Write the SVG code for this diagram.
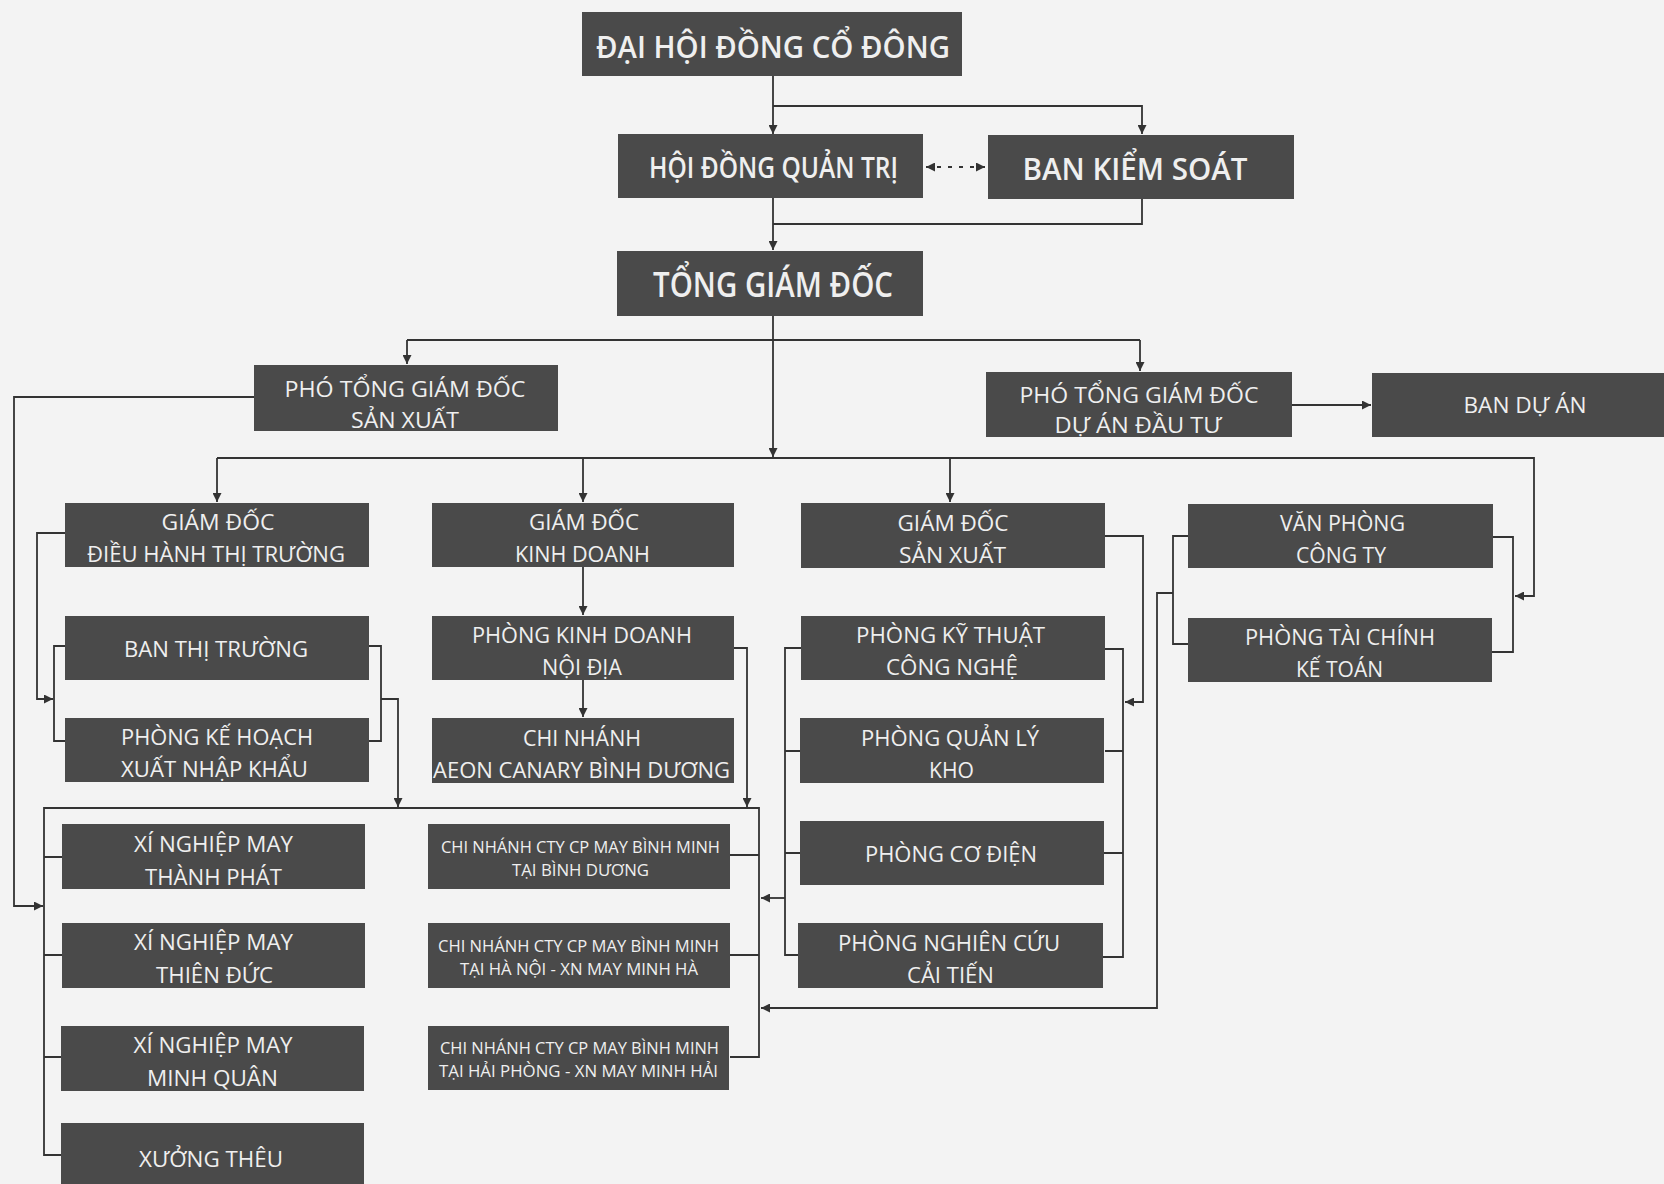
<svg xmlns="http://www.w3.org/2000/svg" width="1664" height="1184" viewBox="0 0 1664 1184">
<style>
.bg{fill:#f3f3f3}
.box{fill:#4a4a4a}
.t{fill:#efefef;font-family:"Open Sans","Noto Sans","DejaVu Sans",sans-serif;font-size:22px;text-anchor:middle}
.s{font-size:17px}
.b{font-weight:600}
.f28{font-size:28px}
.f30{font-size:30px}
.f31{font-size:31px}
.f34{font-size:34px}
.ln{fill:none;stroke:#333;stroke-width:1.8}
.dot{stroke-dasharray:4 7}
</style>
<defs>
<marker id="ah" viewBox="0 0 10 10" refX="10" refY="5" markerWidth="10" markerHeight="9" markerUnits="userSpaceOnUse" orient="auto-start-reverse">
<path d="M0,0 L10,5 L0,10 z" fill="#333"/>
</marker>
</defs>
<rect class="bg" x="0" y="0" width="1664" height="1184"/>

<g id="connectors">
<path class="ln" d="M773,76 V134" marker-end="url(#ah)"/>
<path class="ln" d="M773,106 H1142 V134" marker-end="url(#ah)"/>
<path class="ln dot" d="M926,167 H985" marker-start="url(#ah)" marker-end="url(#ah)"/>
<path class="ln" d="M773,198 V250" marker-end="url(#ah)"/>
<path class="ln" d="M1142,198 V224 H773"/>
<path class="ln" d="M773,316 V457" marker-end="url(#ah)"/>
<path class="ln" d="M407,340 H1140"/>
<path class="ln" d="M407,340 V364" marker-end="url(#ah)"/>
<path class="ln" d="M1140,340 V371" marker-end="url(#ah)"/>
<path class="ln" d="M1292,405 H1371" marker-end="url(#ah)"/>
<path class="ln" d="M254,397 H14 V906 H43" marker-end="url(#ah)"/>
<path class="ln" d="M217,458 H1534 V596 H1515" marker-end="url(#ah)"/>
<path class="ln" d="M217,458 V502" marker-end="url(#ah)"/>
<path class="ln" d="M583,458 V502" marker-end="url(#ah)"/>
<path class="ln" d="M950,458 V502" marker-end="url(#ah)"/>
<path class="ln" d="M583,567 V615" marker-end="url(#ah)"/>
<path class="ln" d="M583,680 V717" marker-end="url(#ah)"/>
<path class="ln" d="M65,533 H37 V699 H53" marker-end="url(#ah)"/>
<path class="ln" d="M65,646 H54 V741 H65"/>
<path class="ln" d="M369,646 H381 V741 H369"/>
<path class="ln" d="M381,699 H398 V807" marker-end="url(#ah)"/>
<path class="ln" d="M733,648 H747 V807" marker-end="url(#ah)"/>
<path class="ln" d="M62,1155 H44 V808 H759 V1057 H730"/>
<path class="ln" d="M44,857 H62 M44,955 H62 M44,1057 H62"/>
<path class="ln" d="M730,855 H759 M730,955 H759"/>
<path class="ln" d="M801,648 H785 V955 H798"/>
<path class="ln" d="M800,751 H785 M800,853 H785"/>
<path class="ln" d="M785,898 H761" marker-end="url(#ah)"/>
<path class="ln" d="M1105,536 H1143 V702 H1125" marker-end="url(#ah)"/>
<path class="ln" d="M1105,649 H1123 V957 H1103"/>
<path class="ln" d="M1105,751 H1123 M1104,853 H1123"/>
<path class="ln" d="M1188,536 H1173 V644 H1188"/>
<path class="ln" d="M1173,593 H1157 V1008 H761" marker-end="url(#ah)"/>
<path class="ln" d="M1493,537 H1513 V652 H1492"/>
</g>

<g id="n-dhdcd"><rect class="box" x="582" y="12" width="380" height="64"/><text class="t b f30" x="773" y="58" textLength="354" lengthAdjust="spacingAndGlyphs">ĐẠI HỘI ĐỒNG CỔ ĐÔNG</text></g>
<g id="n-hdqt"><rect class="box" x="618" y="134" width="305" height="64"/><text class="t b f28" x="773.5" y="178" textLength="249" lengthAdjust="spacingAndGlyphs">HỘI ĐỒNG QUẢN TRỊ</text></g>
<g id="n-bks"><rect class="box" x="988" y="135" width="306" height="64"/><text class="t b f31" x="1135" y="180" textLength="225" lengthAdjust="spacingAndGlyphs">BAN KIỂM SOÁT</text></g>
<g id="n-tgd"><rect class="box" x="617" y="251" width="306" height="65"/><text class="t b f34" x="773" y="297" textLength="240" lengthAdjust="spacingAndGlyphs">TỔNG GIÁM ĐỐC</text></g>

<g id="n-ptgd-sx"><rect class="box" x="254" y="365" width="304" height="66"/><text class="t" x="405" y="397" textLength="241" lengthAdjust="spacingAndGlyphs">PHÓ TỔNG GIÁM ĐỐC</text><text class="t" x="405" y="428" textLength="108" lengthAdjust="spacingAndGlyphs">SẢN XUẤT</text></g>
<g id="n-ptgd-da"><rect class="box" x="986" y="372" width="306" height="65"/><text class="t" x="1139" y="403" textLength="239" lengthAdjust="spacingAndGlyphs">PHÓ TỔNG GIÁM ĐỐC</text><text class="t" x="1138" y="433" textLength="167" lengthAdjust="spacingAndGlyphs">DỰ ÁN ĐẦU TƯ</text></g>
<g id="n-banda"><rect class="box" x="1372" y="373" width="300" height="64"/><text class="t" x="1525" y="413" textLength="123" lengthAdjust="spacingAndGlyphs">BAN DỰ ÁN</text></g>

<g id="n-gd-dhtt"><rect class="box" x="65" y="503" width="304" height="64"/><text class="t" x="218" y="530" textLength="113" lengthAdjust="spacingAndGlyphs">GIÁM ĐỐC</text><text class="t" x="216" y="562" textLength="258" lengthAdjust="spacingAndGlyphs">ĐIỀU HÀNH THỊ TRƯỜNG</text></g>
<g id="n-gd-kd"><rect class="box" x="432" y="503" width="302" height="64"/><text class="t" x="584" y="530" textLength="110" lengthAdjust="spacingAndGlyphs">GIÁM ĐỐC</text><text class="t" x="582.5" y="562" textLength="135" lengthAdjust="spacingAndGlyphs">KINH DOANH</text></g>
<g id="n-gd-sx"><rect class="box" x="801" y="503" width="304" height="65"/><text class="t" x="953" y="531" textLength="111" lengthAdjust="spacingAndGlyphs">GIÁM ĐỐC</text><text class="t" x="952.5" y="563" textLength="107" lengthAdjust="spacingAndGlyphs">SẢN XUẤT</text></g>
<g id="n-vp"><rect class="box" x="1188" y="504" width="305" height="64"/><text class="t" x="1342.5" y="531" textLength="125" lengthAdjust="spacingAndGlyphs">VĂN PHÒNG</text><text class="t" x="1341" y="563" textLength="90" lengthAdjust="spacingAndGlyphs">CÔNG TY</text></g>

<g id="n-ban-tt"><rect class="box" x="65" y="616" width="304" height="64"/><text class="t" x="216" y="657" textLength="184" lengthAdjust="spacingAndGlyphs">BAN THỊ TRƯỜNG</text></g>
<g id="n-pkd"><rect class="box" x="432" y="616" width="302" height="64"/><text class="t" x="582" y="643" textLength="220" lengthAdjust="spacingAndGlyphs">PHÒNG KINH DOANH</text><text class="t" x="582" y="675" textLength="80" lengthAdjust="spacingAndGlyphs">NỘI ĐỊA</text></g>
<g id="n-pkt"><rect class="box" x="801" y="616" width="304" height="64"/><text class="t" x="950.5" y="643" textLength="189" lengthAdjust="spacingAndGlyphs">PHÒNG KỸ THUẬT</text><text class="t" x="952" y="675" textLength="132" lengthAdjust="spacingAndGlyphs">CÔNG NGHỆ</text></g>
<g id="n-ptc"><rect class="box" x="1188" y="618" width="304" height="64"/><text class="t" x="1340" y="645" textLength="190" lengthAdjust="spacingAndGlyphs">PHÒNG TÀI CHÍNH</text><text class="t" x="1339.5" y="677" textLength="87" lengthAdjust="spacingAndGlyphs">KẾ TOÁN</text></g>

<g id="n-pkh"><rect class="box" x="65" y="718" width="304" height="64"/><text class="t" x="217" y="745" textLength="192" lengthAdjust="spacingAndGlyphs">PHÒNG KẾ HOẠCH</text><text class="t" x="214.5" y="777" textLength="187" lengthAdjust="spacingAndGlyphs">XUẤT NHẬP KHẨU</text></g>
<g id="n-cn-aeon"><rect class="box" x="432" y="718" width="302" height="65"/><text class="t" x="582" y="746" textLength="118" lengthAdjust="spacingAndGlyphs">CHI NHÁNH</text><text class="t" x="581.5" y="778" textLength="297" lengthAdjust="spacingAndGlyphs">AEON CANARY BÌNH DƯƠNG</text></g>
<g id="n-pqlk"><rect class="box" x="800" y="718" width="304" height="65"/><text class="t" x="950" y="746" textLength="178" lengthAdjust="spacingAndGlyphs">PHÒNG QUẢN LÝ</text><text class="t" x="951.5" y="778" textLength="45" lengthAdjust="spacingAndGlyphs">KHO</text></g>

<g id="n-xn-tp"><rect class="box" x="62" y="824" width="303" height="65"/><text class="t" x="213.5" y="852" textLength="159" lengthAdjust="spacingAndGlyphs">XÍ NGHIỆP MAY</text><text class="t" x="213.5" y="885" textLength="137" lengthAdjust="spacingAndGlyphs">THÀNH PHÁT</text></g>
<g id="n-cn-bd"><rect class="box" x="428" y="824" width="302" height="65"/><text class="t s" x="580.5" y="853" textLength="279" lengthAdjust="spacingAndGlyphs">CHI NHÁNH CTY CP MAY BÌNH MINH</text><text class="t s" x="580.5" y="876" textLength="137" lengthAdjust="spacingAndGlyphs">TẠI BÌNH DƯƠNG</text></g>
<g id="n-pcd"><rect class="box" x="800" y="821" width="304" height="64"/><text class="t" x="951" y="862" textLength="172" lengthAdjust="spacingAndGlyphs">PHÒNG CƠ ĐIỆN</text></g>

<g id="n-xn-td"><rect class="box" x="62" y="923" width="303" height="65"/><text class="t" x="213.5" y="950" textLength="159" lengthAdjust="spacingAndGlyphs">XÍ NGHIỆP MAY</text><text class="t" x="214.5" y="983" textLength="117" lengthAdjust="spacingAndGlyphs">THIÊN ĐỨC</text></g>
<g id="n-cn-hn"><rect class="box" x="428" y="923" width="302" height="65"/><text class="t s" x="578.5" y="952" textLength="281" lengthAdjust="spacingAndGlyphs">CHI NHÁNH CTY CP MAY BÌNH MINH</text><text class="t s" x="579" y="975" textLength="238" lengthAdjust="spacingAndGlyphs">TẠI HÀ NỘI - XN MAY MINH HÀ</text></g>
<g id="n-pnc"><rect class="box" x="798" y="923" width="305" height="65"/><text class="t" x="949" y="951" textLength="222" lengthAdjust="spacingAndGlyphs">PHÒNG NGHIÊN CỨU</text><text class="t" x="950.5" y="983" textLength="87" lengthAdjust="spacingAndGlyphs">CẢI TIẾN</text></g>

<g id="n-xn-mq"><rect class="box" x="61" y="1026" width="303" height="65"/><text class="t" x="213" y="1053" textLength="159" lengthAdjust="spacingAndGlyphs">XÍ NGHIỆP MAY</text><text class="t" x="212.5" y="1086" textLength="131" lengthAdjust="spacingAndGlyphs">MINH QUÂN</text></g>
<g id="n-cn-hp"><rect class="box" x="428" y="1026" width="301" height="64"/><text class="t s" x="579.5" y="1054" textLength="279" lengthAdjust="spacingAndGlyphs">CHI NHÁNH CTY CP MAY BÌNH MINH</text><text class="t s" x="578.5" y="1077" textLength="279" lengthAdjust="spacingAndGlyphs">TẠI HẢI PHÒNG - XN MAY MINH HẢI</text></g>

<g id="n-xt"><rect class="box" x="61" y="1123" width="303" height="70"/><text class="t" x="211" y="1167" textLength="144" lengthAdjust="spacingAndGlyphs">XƯỞNG THÊU</text></g>
</svg>
